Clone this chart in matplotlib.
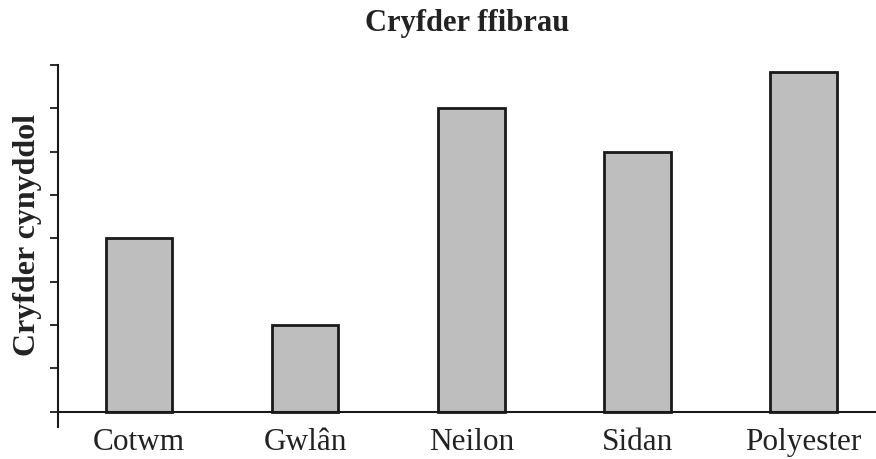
import matplotlib
matplotlib.use("Agg")
import matplotlib.pyplot as plt

fibres = ["Cotwm", "Gwlân", "Neilon", "Sidan", "Polyester"]
strength = [4, 2, 7, 6, 7.85]
y_ticks = [0, 1, 2, 3, 4, 5, 6, 7, 8]

plt.rcParams['font.family'] = ['Liberation Serif', 'DejaVu Serif']

fig = plt.figure(figsize=(8.76, 4.59), dpi=100)
ax = fig.add_axes([58 / 876, 1 - 427 / 459, (876 - 58) / 876, 362 / 459])

x = list(range(len(fibres)))
ax.bar(x, strength, width=0.4, color="#bebebf", edgecolor="#1a1a1a", linewidth=2, zorder=2)
ax.axhline(0, color="#1a1a1a", linewidth=1.5, zorder=3)

ax.set_xlim(-0.487, 4.435)
ax.set_ylim(-0.35, 8)
ax.set_yticks(y_ticks)
ax.set_yticklabels([])
ax.tick_params(axis="y", direction="out", length=6, width=1.3, color="#1a1a1a")
ax.set_xticks(x)
ax.set_xticklabels(fibres, fontsize=22.5, color="#222222")
ax.tick_params(axis="x", length=0, pad=1)

for s in ["top", "right", "bottom"]:
    ax.spines[s].set_visible(False)
ax.spines["left"].set_linewidth(1.5)
ax.spines["left"].set_color("#1a1a1a")

ax.set_ylabel("Cryfder cynyddol", fontsize=23, fontweight="bold", color="#222222")
ax.yaxis.set_label_coords(-16 / 818, 0.53)

fig.text(467 / 876, 1 - 24 / 459, "Cryfder ffibrau", fontsize=22, fontweight="bold",
         color="#222222", ha="center", va="center")

plt.savefig("out.png", dpi=100)
